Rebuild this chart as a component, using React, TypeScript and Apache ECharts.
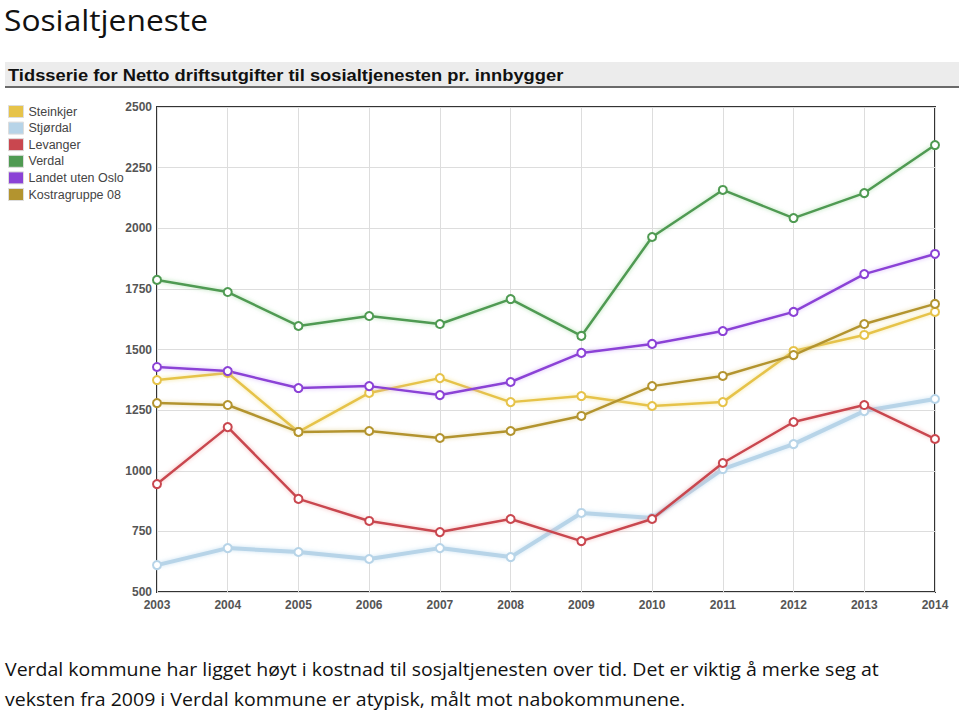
import React, { useEffect, useRef } from "react";
import * as echarts from "echarts";

const years = ["2003", "2004", "2005", "2006", "2007", "2008", "2009", "2010", "2011", "2012", "2013", "2014"];
const steinkjer = [1374, 1403, 1160, 1321, 1382, 1283, 1308, 1267, 1283, 1494, 1560, 1655];
const stjordal = [611, 681, 665, 636, 681, 644, 826, 805, 1007, 1110, 1246, 1296];
const levanger = [945, 1180, 884, 793, 747, 801, 710, 801, 1032, 1201, 1271, 1131];
const verdal = [1787, 1737, 1597, 1638, 1605, 1708, 1556, 1964, 2158, 2042, 2145, 2343];
const landet = [1428, 1411, 1341, 1349, 1312, 1366, 1486, 1523, 1576, 1655, 1811, 1894];
const kostra = [1279, 1271, 1160, 1164, 1135, 1164, 1226, 1349, 1391, 1477, 1605, 1688];

const seriesNames = ["Steinkjer", "Stjørdal", "Levanger", "Verdal", "Landet uten Oslo", "Kostragruppe 08"];
const seriesData = [steinkjer, stjordal, levanger, verdal, landet, kostra];
const seriesColors = ["#e6c34a", "#b7d4e8", "#c9474f", "#4f9a52", "#8b42d6", "#b3942f"];
const glowColors = ["rgba(240,220,120,0.8)", "rgba(190,220,240,0.8)", "rgba(240,150,150,0.7)", "rgba(140,210,140,0.7)", "rgba(200,150,250,0.7)", "rgba(220,200,120,0.7)"];

const pageTitle = "Sosialtjeneste";
const chartTitle = "Tidsserie for Netto driftsutgifter til sosialtjenesten pr. innbygger";
const noteLine1 = "Verdal kommune har ligget høyt i kostnad til sosjaltjenesten over tid. Det er viktig å merke seg at";
const noteLine2 = "veksten fra 2009 i Verdal kommune er atypisk, målt mot nabokommunene.";

function measure(text: string, font: string): number {
  const c = document.createElement("canvas");
  const ctx = c.getContext("2d");
  if (!ctx) return 1;
  ctx.font = font;
  return ctx.measureText(text).width;
}

export default function App() {
  const ref = useRef<HTMLDivElement>(null);
  useEffect(() => {
    if (!ref.current) return;
    const chart = echarts.init(ref.current, undefined, { renderer: "svg" });
    const bodyFont = "'Open Sans', sans-serif";
    const titleSize = 29;
    const noteSize = 19;
    const t1 = measure(pageTitle, `${titleSize}px 'Open Sans'`);
    const n1 = measure(noteLine1, `${noteSize}px 'Open Sans'`);
    const ct = measure(chartTitle, `bold 16px 'Liberation Sans'`);
    const noteScale = 875 / n1;

    chart.setOption({
      animation: false,
      backgroundColor: "#ffffff",
      graphic: [
        {
          type: "text",
          x: 4,
          y: 20,
          scaleX: 204 / t1,
          style: { text: pageTitle, fontFamily: bodyFont, fontSize: titleSize, fill: "#111", textVerticalAlign: "middle" },
        },
        {
          type: "rect",
          shape: { x: 5, y: 62, width: 954, height: 25 },
          style: { fill: "#ececec" },
        },
        {
          type: "rect",
          shape: { x: 5, y: 86, width: 954, height: 2 },
          style: { fill: "#6a6a6a" },
        },
        {
          type: "text",
          x: 8,
          y: 75,
          scaleX: 556 / ct,
          style: { text: chartTitle, fontFamily: "'Liberation Sans', Arial, sans-serif", fontWeight: "bold", fontSize: 16, fill: "#111", textVerticalAlign: "middle" },
        },
        {
          type: "text",
          x: 5,
          y: 669,
          scaleX: noteScale,
          style: { text: noteLine1, fontFamily: bodyFont, fontSize: noteSize, fill: "#111", textVerticalAlign: "middle" },
        },
        {
          type: "text",
          x: 5,
          y: 699,
          scaleX: noteScale,
          style: { text: noteLine2, fontFamily: bodyFont, fontSize: noteSize, fill: "#111", textVerticalAlign: "middle" },
        },
      ],
      legend: {
        orient: "vertical",
        left: 8,
        top: 105,
        padding: 0,
        itemWidth: 15,
        itemHeight: 12,
        itemGap: 3.6,
        icon: "rect",
        textStyle: { fontFamily: "'Liberation Sans', Arial, sans-serif", fontSize: 12.5, color: "#444" },
        data: seriesNames.map((n, i) => ({ name: n, itemStyle: { color: seriesColors[i], borderColor: "#dddddd", borderWidth: 1 } })),
      },
      grid: {
        left: 157,
        right: 24,
        top: 107,
        bottom: 121,
        show: true,
        borderColor: "#333333",
        borderWidth: 2,
        backgroundColor: "transparent",
      },
      xAxis: {
        type: "category",
        data: years,
        boundaryGap: false,
        axisLine: { show: false },
        axisTick: { show: false },
        axisLabel: { fontFamily: "'Liberation Sans', Arial, sans-serif", fontSize: 12, fontWeight: "bold", color: "#555", margin: 7 },
        splitLine: { show: true, lineStyle: { color: "#dddddd", width: 1 } },
      },
      yAxis: {
        type: "value",
        min: 500,
        max: 2500,
        interval: 250,
        axisLine: { show: false },
        axisTick: { show: false },
        axisLabel: {
          fontFamily: "'Liberation Sans', Arial, sans-serif",
          fontSize: 12,
          fontWeight: "bold",
          color: "#555",
          margin: 5,
          formatter: (v: number) => String(v),
        },
        splitLine: { show: true, lineStyle: { color: "#dddddd", width: 1 } },
      },
      series: seriesNames.map((n, i) => ({
        name: n,
        type: "line",
        data: seriesData[i],
        symbol: "circle",
        symbolSize: 8,
        showSymbol: true,
        color: seriesColors[i],
        lineStyle: {
          color: seriesColors[i],
          width: i === 1 ? 4 : 2.5,
          shadowColor: glowColors[i],
          shadowBlur: 4,
        },
        itemStyle: { color: "#ffffff", borderColor: seriesColors[i], borderWidth: 2 },
        emphasis: { disabled: true },
        z: i === 1 ? 1 : 2,
      })),
    });
    return () => chart.dispose();
  }, []);
  return <div ref={ref} style={{ position: "fixed", left: 0, top: 0, width: 959, height: 713 }} />;
}
